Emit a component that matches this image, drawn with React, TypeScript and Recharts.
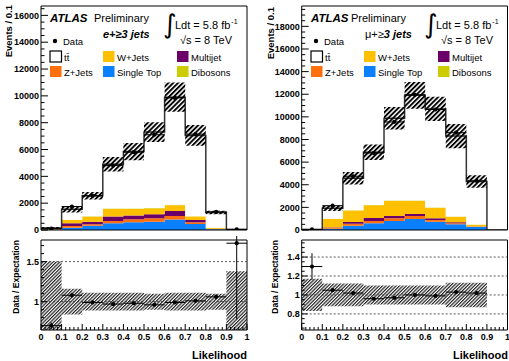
import React from "react";
import {
  ComposedChart,
  Area,
  Scatter,
  XAxis,
  YAxis,
  ErrorBar,
  ReferenceLine,
  ReferenceArea,
} from "recharts";

const FONT = '"Liberation Sans", Arial, Helvetica, sans-serif';

// likelihood bins
const binEdges = [0, 0.1, 0.2, 0.3, 0.4, 0.5, 0.6, 0.7, 0.8, 0.9, 1.0];
const binCenters = [0.05, 0.15, 0.25, 0.35, 0.45, 0.55, 0.65, 0.75, 0.85, 0.95];
const xMajorTicks = [0, 0.1, 0.2, 0.3, 0.4, 0.5, 0.6, 0.7, 0.8, 0.9, 1];
const xTickLabels = ["0", "0.1", "0.2", "0.3", "0.4", "0.5", "0.6", "0.7", "0.8", "0.9", "1"];

// e + >=3 jets
const eTtbar = [65, 790, 1520, 3300, 4250, 5660, 8010, 6020, 1140, 30];
const eWjets = [30, 240, 380, 560, 470, 430, 430, 260, 50, 0];
const eMultijet = [20, 200, 200, 330, 290, 300, 370, 170, 20, 0];
const eZjets = [10, 130, 100, 170, 230, 250, 250, 120, 30, 0];
const eSingleTop = [20, 170, 320, 500, 570, 620, 790, 450, 50, 0];
const eDibosons = [5, 20, 30, 40, 40, 40, 50, 30, 10, 0];
const eData = [100, 1750, 2550, 4800, 5800, 7100, 9850, 7150, 1350, 50];
const eRatio = [0.7, 1.08, 0.99, 0.97, 0.98, 0.96, 0.99, 1.01, 1.06, 1.73];
const eRatioErr = [0.04, 0.03, 0.02, 0.015, 0.015, 0.015, 0.012, 0.015, 0.03, 0.95];
const eSyst = [0.5, 0.16, 0.11, 0.11, 0.11, 0.1, 0.11, 0.11, 0.1, 0.38];
const eYMajor = [0, 2000, 4000, 6000, 8000, 10000, 12000, 14000, 16000];
const eRatioMajor = [1, 1.5];
const eRatioLabels = ["1", "1.5"];

// mu + >=3 jets
const muTtbar = [10, 930, 2830, 4650, 7270, 9290, 8720, 7100, 3800, 0];
const muWjets = [10, 720, 1000, 1120, 1330, 1150, 920, 500, 160, 0];
const muMultijet = [5, 30, 150, 260, 210, 180, 150, 90, 20, 0];
const muZjets = [5, 120, 180, 210, 230, 270, 140, 90, 20, 0];
const muSingleTop = [10, 100, 380, 590, 800, 970, 740, 500, 270, 0];
const muDibosons = [0, 20, 30, 40, 40, 40, 30, 20, 10, 0];
const muData = [50, 2150, 4750, 6800, 9550, 11950, 10650, 8600, 4350, null];
const muRatio = [1.3, 1.05, 1.02, 0.96, 0.97, 1.0, 0.99, 1.03, 1.02, null];
const muRatioErr = [0.14, 0.02, 0.015, 0.012, 0.01, 0.01, 0.01, 0.012, 0.015, 0];
const muSyst = [0.17, 0.12, 0.12, 0.1, 0.1, 0.1, 0.1, 0.13, 0.13, 0];
const muYMajor = [0, 2000, 4000, 6000, 8000, 10000, 12000, 14000, 16000, 18000];
const muRatioMajor = [0.8, 1, 1.2, 1.4];
const muRatioLabels = ["0.8", "1", "1.2", "1.4"];

const COLORS = {
  singleTop: "#0a80ff",
  zjets: "#ff6f0e",
  multijet: "#6a0068",
  wjets: "#ffc000",
  dibosons: "#cccc00",
  ttbar: "#ffffff",
};

const near = (a: number, b: number) => Math.abs(a - b) < 1e-6;

function XTick(props: any) {
  const { x, y, payload, showLabels, len } = props;
  const idx = xMajorTicks.findIndex((m) => near(m, payload.value));
  const major = idx >= 0;
  return (
    <g>
      <line x1={x} x2={x} y1={y} y2={y - (major ? len : len / 2)} stroke="#000" strokeWidth={1} />
      {showLabels && major && (
        <text x={x} y={y + 10} textAnchor="middle" fontSize={9} fontWeight="bold" fontFamily={FONT} fill="#000">
          {xTickLabels[idx]}
        </text>
      )}
    </g>
  );
}

function YTick(props: any) {
  const { x, y, payload, majors, labels, len } = props;
  const idx = majors.findIndex((m: number) => near(m, payload.value));
  const major = idx >= 0;
  return (
    <g>
      <line x1={x} x2={x + (major ? len : len / 2)} y1={y} y2={y} stroke="#000" strokeWidth={1} />
      {major && (
        <text x={x - 2} y={y + 3.2} textAnchor="end" fontSize={9} fontWeight="bold" fontFamily={FONT} fill="#000">
          {labels[idx]}
        </text>
      )}
    </g>
  );
}

const minorX: number[] = [];
for (let i = 0; i <= 50; i++) minorX.push(Math.round(i * 2) / 100);

function range(lo: number, hi: number, step: number) {
  const out: number[] = [];
  for (let v = lo; v <= hi + 1e-9; v += step) out.push(Math.round(v * 1000) / 1000);
  return out;
}

type Panel = {
  id: string;
  left: number;
  width: number;
  yAxisW: number;
  marginR: number;
  ttbar: number[];
  wjets: number[];
  multijet: number[];
  zjets: number[];
  singleTop: number[];
  dibosons: number[];
  data: (number | null)[];
  ratio: (number | null)[];
  ratioErr: number[];
  syst: number[];
  yMax: number;
  yMajor: number[];
  ratioDomain: [number, number];
  ratioMajor: number[];
  ratioLabels: string[];
  ratioMinorStep: number;
  ratioLines: number[];
};

const dot = (p: any) => <circle cx={p.cx} cy={p.cy} r={2.1} fill="#000" />;

function MainChart({ p }: { p: Panel }) {
  const rows = binEdges.map((x, i) => {
    const b = Math.min(i, 9);
    const tot = p.ttbar[b] + p.wjets[b] + p.multijet[b] + p.zjets[b] + p.singleTop[b] + p.dibosons[b];
    return {
      x,
      singleTop: p.singleTop[b],
      zjets: p.zjets[b],
      multijet: p.multijet[b],
      wjets: p.wjets[b],
      dibosons: p.dibosons[b],
      ttbar: p.ttbar[b],
      band: [tot * (1 - p.syst[b]), tot * (1 + p.syst[b])],
    };
  });
  const points = p.data
    .map((v, i) => (v == null ? null : { x: binCenters[i], y: v, ex: 0.05 }))
    .filter(Boolean) as any[];
  const yMajorLabels = p.yMajor.map((v) => String(v));
  const order = ["singleTop", "zjets", "multijet", "wjets", "dibosons"] as const;
  return (
    <div style={{ position: "absolute", left: p.left, top: 0 }}>
      <ComposedChart width={p.width} height={236} data={rows} margin={{ top: 6, right: p.marginR, bottom: 6, left: 0 }}>
        <defs>
          <pattern id={p.id + "hm"} width={3.4} height={3.4} patternUnits="userSpaceOnUse" patternTransform="rotate(45)">
            <rect x={0} y={0} width={1.9} height={3.4} fill="#000" />
          </pattern>
        </defs>
        <XAxis
          type="number"
          dataKey="x"
          domain={[0, 1]}
          ticks={minorX}
          interval={0}
          height={0}
          tickSize={0}
          tickMargin={0}
          axisLine={false}
          allowDataOverflow
          tick={(t: any) => <XTick {...t} showLabels={false} len={7} />}
        />
        <YAxis
          type="number"
          domain={[0, p.yMax]}
          ticks={range(0, p.yMax, 500)}
          interval={0}
          width={p.yAxisW}
          tickSize={0}
          tickMargin={0}
          axisLine={false}
          allowDataOverflow
          tick={(t: any) => <YTick {...t} majors={p.yMajor} labels={yMajorLabels} len={7} />}
        />
        {order.map((k) => (
          <Area
            key={k}
            dataKey={k}
            stackId="s"
            type="stepAfter"
            fill={COLORS[k]}
            fillOpacity={1}
            stroke="none"
            isAnimationActive={false}
          />
        ))}
        <Area
          dataKey="ttbar"
          stackId="s"
          type="stepAfter"
          fill="#fff"
          fillOpacity={1}
          stroke="#333"
          strokeWidth={1.5}
          isAnimationActive={false}
        />
        <Area dataKey="band" type="stepAfter" fill={`url(#${p.id}hm)`} fillOpacity={1} stroke="none" isAnimationActive={false} />
        <Scatter data={points} dataKey="y" shape={dot} isAnimationActive={false}>
          <ErrorBar dataKey="ex" direction="x" width={0} stroke="#000" strokeWidth={1} />
        </Scatter>
        <ReferenceArea x1={0} x2={1} y1={0} y2={p.yMax} fill="none" stroke="#000" strokeWidth={1} />
      </ComposedChart>
    </div>
  );
}

function RatioChart({ p }: { p: Panel }) {
  const rows = binEdges.map((x, i) => {
    const b = Math.min(i, 9);
    return { x, band: [1 - p.syst[b], 1 + p.syst[b]] };
  });
  const points = p.ratio
    .map((v, i) => (v == null ? null : { x: binCenters[i], y: v, ex: 0.05, ey: p.ratioErr[i] }))
    .filter(Boolean) as any[];
  const [lo, hi] = p.ratioDomain;
  return (
    <div style={{ position: "absolute", left: p.left, top: 236 }}>
      <ComposedChart width={p.width} height={125} data={rows} margin={{ top: 4, right: p.marginR, bottom: 11, left: 0 }}>
        <defs>
          <pattern id={p.id + "hr"} width={2.4} height={2.4} patternUnits="userSpaceOnUse" patternTransform="rotate(45)">
            <rect x={0} y={0} width={1.2} height={2.4} fill="#222" />
          </pattern>
        </defs>
        <XAxis
          type="number"
          dataKey="x"
          domain={[0, 1]}
          ticks={minorX}
          interval={0}
          height={20}
          tickSize={0}
          tickMargin={0}
          axisLine={false}
          allowDataOverflow
          tick={(t: any) => <XTick {...t} showLabels={true} len={6} />}
        />
        <YAxis
          type="number"
          domain={[lo, hi]}
          ticks={range(Math.ceil(lo / p.ratioMinorStep) * p.ratioMinorStep, hi, p.ratioMinorStep)}
          interval={0}
          width={p.yAxisW}
          tickSize={0}
          tickMargin={0}
          axisLine={false}
          allowDataOverflow
          tick={(t: any) => <YTick {...t} majors={p.ratioMajor} labels={p.ratioLabels} len={6} />}
        />
        <Area dataKey="band" type="stepAfter" fill={`url(#${p.id}hr)`} fillOpacity={1} stroke="none" isAnimationActive={false} />
        {p.ratioLines.map((v) => (
          <ReferenceLine key={v} y={v} stroke="#333" strokeWidth={0.8} strokeDasharray="2 2" />
        ))}
        <Scatter data={points} dataKey="y" shape={dot} isAnimationActive={false}>
          <ErrorBar dataKey="ex" direction="x" width={0} stroke="#000" strokeWidth={1} />
          <ErrorBar dataKey="ey" direction="y" width={0} stroke="#000" strokeWidth={1} />
        </Scatter>
        <ReferenceArea x1={0} x2={1} y1={lo} y2={hi} fill="none" stroke="#000" strokeWidth={1} />
      </ComposedChart>
    </div>
  );
}

function Labels({ dx, prelimX, channel }: { dx: number; prelimX: number; channel: React.ReactNode }) {
  const t = (x: number, y: number, s: React.ReactNode, size = 9.5, extra: any = {}) => (
    <text x={x + dx} y={y} fontSize={size} fontFamily={FONT} fill="#000" {...extra}>
      {s}
    </text>
  );
  const box = (x: number, y: number, color: string, outline = false) => (
    <rect x={x + dx} y={y} width={11.5} height={11} fill={color} stroke={outline ? "#000" : "none"} strokeWidth={1.2} />
  );
  return (
    <g>
      {t(50, 22, "ATLAS", 11.5, { fontWeight: "bold", fontStyle: "italic" })}
      <text x={prelimX} y={22} fontSize={11} fontFamily={FONT} fill="#000">
        Preliminary
      </text>
      {channel}
      {t(163, 33, "\u222B", 26, { fontFamily: '"DejaVu Sans", sans-serif' })}
      <text x={175 + dx} y={29} fontSize={11} fontFamily={FONT} fill="#000">
        Ldt = 5.8 fb
        <tspan dx={1} dy={-5} fontSize={7}>
          -1
        </tspan>
      </text>
      {t(180, 44, "\u221As = 8 TeV", 11)}
      <circle cx={55 + dx} cy={41} r={2.2} fill="#000" />
      {t(63, 44.5, "Data")}
      {box(50, 51, "#fff", true)}
      {t(64, 60.5, "t\u0074\u0304")}
      {box(103, 51, COLORS.wjets)}
      {t(117, 60.5, "W+Jets")}
      {box(177, 51, COLORS.multijet)}
      {t(191, 60.5, "Multijet")}
      {box(50, 66, COLORS.zjets)}
      {t(64, 75.5, "Z+Jets")}
      {box(103, 66, COLORS.singleTop)}
      {t(117, 75.5, "Single Top")}
      {box(177, 66, COLORS.dibosons)}
      {t(191, 75.5, "Dibosons")}
    </g>
  );
}

const ePanel: Panel = {
  id: "e",
  left: 0,
  width: 255,
  yAxisW: 41,
  marginR: 8,
  ttbar: eTtbar,
  wjets: eWjets,
  multijet: eMultijet,
  zjets: eZjets,
  singleTop: eSingleTop,
  dibosons: eDibosons,
  data: eData,
  ratio: eRatio,
  ratioErr: eRatioErr,
  syst: eSyst,
  yMax: 16700,
  yMajor: eYMajor,
  ratioDomain: [0.646, 1.77],
  ratioMajor: eRatioMajor,
  ratioLabels: eRatioLabels,
  ratioMinorStep: 0.1,
  ratioLines: [1, 1.5],
};

const muPanel: Panel = {
  id: "mu",
  left: 255,
  width: 254,
  yAxisW: 46.7,
  marginR: 1.5,
  ttbar: muTtbar,
  wjets: muWjets,
  multijet: muMultijet,
  zjets: muZjets,
  singleTop: muSingleTop,
  dibosons: muDibosons,
  data: muData,
  ratio: muRatio,
  ratioErr: muRatioErr,
  syst: muSyst,
  yMax: 19800,
  yMajor: muYMajor,
  ratioDomain: [0.63, 1.58],
  ratioMajor: muRatioMajor,
  ratioLabels: muRatioLabels,
  ratioMinorStep: 0.05,
  ratioLines: [0.8, 1, 1.2, 1.4],
};

export default function App() {
  const axisTitle = { fontSize: 9.5, fontWeight: "bold" as const, fontFamily: FONT, fill: "#000" };
  return (
    <div style={{ position: "absolute", left: 0, top: 0, width: 509, height: 361, background: "#fff", overflow: "hidden" }}>
      <MainChart p={ePanel} />
      <RatioChart p={ePanel} />
      <MainChart p={muPanel} />
      <RatioChart p={muPanel} />
      <svg width={509} height={361} style={{ position: "absolute", left: 0, top: 0, pointerEvents: "none" }}>
        <Labels
          dx={0}
          prelimX={94}
          channel={
            <text x={103} y={38} fontSize={11} fontFamily={FONT} fontWeight="bold" fontStyle="italic" fill="#000">
              e+≥3 jets
            </text>
          }
        />
        <Labels
          dx={261}
          prelimX={351}
          channel={
            <text x={365} y={38} fontSize={11} fontFamily={FONT} fill="#000">
              μ+≥<tspan fontWeight="bold" fontStyle="italic">3 jets</tspan>
            </text>
          }
        />
        <text transform="translate(12,5) rotate(-90)" textAnchor="end" {...axisTitle}>
          Events / 0.1
        </text>
        <text transform="translate(273.5,7) rotate(-90)" textAnchor="end" {...axisTitle}>
          Events / 0.1
        </text>
        <text transform="translate(18.5,240) rotate(-90)" textAnchor="end" {...axisTitle} fontSize={8.5}>
          Data / Expectation
        </text>
        <text transform="translate(277.5,240) rotate(-90)" textAnchor="end" {...axisTitle} fontSize={8.5}>
          Data / Expectation
        </text>
        <text x={247} y={359} textAnchor="end" fontSize={11} fontWeight="bold" fontFamily={FONT} fill="#000">
          Likelihood
        </text>
        <text x={508} y={359} textAnchor="end" fontSize={11} fontWeight="bold" fontFamily={FONT} fill="#000">
          Likelihood
        </text>
      </svg>
    </div>
  );
}
